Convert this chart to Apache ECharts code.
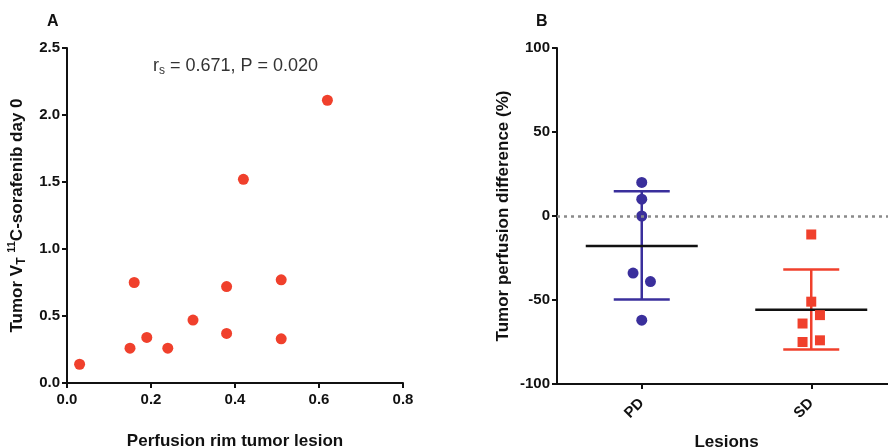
<!DOCTYPE html>
<html><head><meta charset="utf-8">
<script src="https://cdn.jsdelivr.net/npm/echarts@6/dist/echarts.min.js"></script>
<style>html,body{margin:0;padding:0;background:#fff}#c{width:888px;height:447px}</style>
</head><body><div id="c"></div>
<script>
// Panel A data
const perfusionRim = [0.03, 0.15, 0.16, 0.19, 0.24, 0.30, 0.38, 0.38, 0.42, 0.51, 0.51, 0.62];
const tumorVT      = [0.14, 0.26, 0.75, 0.34, 0.26, 0.47, 0.72, 0.37, 1.52, 0.77, 0.33, 2.11];
const xTicksA = [0, 0.2, 0.4, 0.6, 0.8];
const yTicksA = [0, 0.5, 1.0, 1.5, 2.0, 2.5];
// Panel B data
const lesionCats = ['PD', 'SD'];
const pdValues = [20, 10, 0, -34, -39, -62];
const pdColumn = [0, 0, 0, -1, 1, 0];
const sdValues = [-11, -51, -59, -64, -74, -75];
const sdColumn = [0, 0, 1, -1, 1, -1];
const groupMean  = [-17.8, -55.8];
const groupUpper = [14.8, -31.9];
const groupLower = [-49.7, -79.5];
const yTicksB = [-100, -50, 0, 50, 100];

const RED = '#f0402c', BLUE = '#3a2f9c';
const FONT = 'Liberation Sans, Arial, sans-serif';
const chart = echarts.init(document.getElementById('c'), null, {renderer: 'canvas'});

const axisCommon = {
  axisLine: {show: true, onZero: false, lineStyle: {color: '#111', width: 2}},
  axisTick: {show: true, length: 5, lineStyle: {color: '#111', width: 2}},
  axisLabel: {color: '#111', fontWeight: 'bold', fontSize: 15, fontFamily: FONT},
  splitLine: {show: false},
  nameTextStyle: {color: '#111', fontWeight: 'bold', fontSize: 17, fontFamily: FONT}
};

function errRender(params, api) {
  const i = params.dataIndex;
  const xc = api.coord([api.value(0), 0])[0];
  const pm = api.coord([api.value(0), api.value(1)]);
  const pu = api.coord([api.value(0), api.value(2)]);
  const pl = api.coord([api.value(0), api.value(3)]);
  const col = i === 0 ? BLUE : RED;
  const mh = 56, ch = 28;
  return {type: 'group', children: [
    {type: 'line', shape: {x1: xc, y1: pu[1], x2: xc, y2: pl[1]}, style: {stroke: col, lineWidth: 2.5}},
    {type: 'line', shape: {x1: xc - ch, y1: pu[1], x2: xc + ch, y2: pu[1]}, style: {stroke: col, lineWidth: 2.5}},
    {type: 'line', shape: {x1: xc - ch, y1: pl[1], x2: xc + ch, y2: pl[1]}, style: {stroke: col, lineWidth: 2.5}},
    {type: 'line', shape: {x1: xc - mh, y1: pm[1], x2: xc + mh, y2: pm[1]}, style: {stroke: '#111', lineWidth: 2.5}}
  ]};
}

const option = {
  animation: false,
  backgroundColor: '#fff',
  textStyle: {fontFamily: FONT},
  grid: [
    {left: 67, right: 485, top: 48, bottom: 64, containLabel: false, outerBoundsMode: 'none'},
    {left: 557, right: -8, top: 48, bottom: 63, containLabel: false, outerBoundsMode: 'none'}
  ],
  xAxis: [
    Object.assign({}, axisCommon, {gridIndex: 0, type: 'value', min: 0, max: 0.8, interval: 0.2,
      name: 'Perfusion rim tumor lesion', nameLocation: 'middle', nameGap: 50,
      axisLabel: Object.assign({}, axisCommon.axisLabel, {margin: 9, formatter: v => v.toFixed(1)})}),
    Object.assign({}, axisCommon, {gridIndex: 1, type: 'category', data: lesionCats, boundaryGap: true,
      name: 'Lesions', nameLocation: 'middle', nameGap: 50,
      axisTick: {show: true, length: 5, alignWithLabel: true, lineStyle: {color: '#111', width: 2}},
      axisLabel: Object.assign({}, axisCommon.axisLabel, {rotate: 45, margin: 17})})
  ],
  yAxis: [
    Object.assign({}, axisCommon, {gridIndex: 0, type: 'value', min: 0, max: 2.5, interval: 0.5,
      name: 'Tumor V{sub|T} {sup|11}C-sorafenib day 0', nameLocation: 'middle', nameGap: 39,
      nameTextStyle: Object.assign({}, axisCommon.nameTextStyle, {
        rich: {
          sub: {fontSize: 12, fontWeight: 'bold', color: '#111', fontFamily: FONT, padding: [10, 0, 0, 0]},
          sup: {fontSize: 11, fontWeight: 'bold', color: '#111', fontFamily: FONT, padding: [0, 0, 10, 0]}
        }}),
      axisLabel: Object.assign({}, axisCommon.axisLabel, {margin: 7, formatter: v => v.toFixed(1)})}),
    Object.assign({}, axisCommon, {gridIndex: 1, type: 'value', min: -100, max: 100, interval: 50,
      name: 'Tumor perfusion difference (%)', nameLocation: 'middle', nameGap: 45,
      axisLabel: Object.assign({}, axisCommon.axisLabel, {margin: 7})})
  ],
  graphic: [
    {type: 'text', left: 47, top: 14, style: {text: 'A', fontSize: 16, fontWeight: 'bold', fill: '#111', fontFamily: FONT}},
    {type: 'text', left: 536, top: 14, style: {text: 'B', fontSize: 16, fontWeight: 'bold', fill: '#111', fontFamily: FONT}},
    {type: 'text', left: 153, top: 57, style: {
      text: 'r{s|s} = 0.671, P = 0.020', fontSize: 18, fill: '#333', fontFamily: FONT,
      rich: {s: {fontSize: 12, fill: '#333', fontFamily: FONT, padding: [10, 0, 0, 0]}}}}
  ],
  series: [
    {type: 'scatter', xAxisIndex: 0, yAxisIndex: 0, symbol: 'circle', symbolSize: 11,
      itemStyle: {color: RED, opacity: 1},
      data: perfusionRim.map((x, i) => [x, tumorVT[i]])},
    {type: 'custom', xAxisIndex: 1, yAxisIndex: 1, renderItem: errRender, z: 2,
      data: lesionCats.map((c, i) => [i, groupMean[i], groupUpper[i], groupLower[i]]),
      markLine: {silent: true, symbol: 'none', label: {show: false},
        lineStyle: {color: '#8a8a8a', type: [3, 4], width: 2.5},
        data: [{yAxis: 0}]}},
    {type: 'scatter', xAxisIndex: 1, yAxisIndex: 1, symbol: 'circle', symbolSize: 11, z: 3,
      itemStyle: {color: BLUE, opacity: 1},
      data: pdValues.map((v, i) => ({value: [0, v], symbolOffset: [pdColumn[i] * 8.7, 0]}))},
    {type: 'scatter', xAxisIndex: 1, yAxisIndex: 1, symbol: 'rect', symbolSize: 10, z: 3,
      itemStyle: {color: RED, opacity: 1},
      data: sdValues.map((v, i) => ({value: [1, v], symbolOffset: [sdColumn[i] * 8.7, 0]}))}
  ]
};
chart.setOption(option);
</script>
</body></html>
